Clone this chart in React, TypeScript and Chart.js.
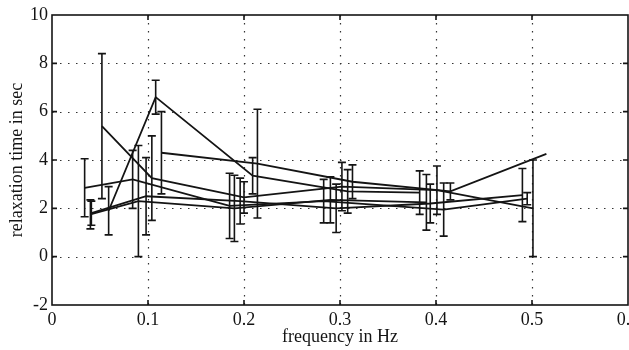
import { useEffect, useRef } from 'react';
import { Chart, registerables } from 'chart.js';

Chart.register(...registerables);

// Axis ticks
const xTicks = [0, 0.1, 0.2, 0.3, 0.4, 0.5, 0.6];
const yTicks = [-2, 0, 2, 4, 6, 8, 10];

// Series (frequency in Hz, relaxation time in sec, error half-length)
const aFreq = [0.052, 0.104, 0.2, 0.302, 0.401, 0.501];
const aTime = [5.4, 3.25, 2.45, 2.9, 2.75, 2.0];
const aErr = [3.0, 1.75, 0.65, 1.0, 1.0, 2.0];

const bFreq = [0.059, 0.108, 0.209, 0.308, 0.383];
const bTime = [1.9, 6.6, 3.35, 2.7, 2.65];
const bErr = [1.0, 0.7, 0.75, 0.9, 0.9];

const cFreq = [0.114, 0.214, 0.313, 0.415, 0.515];
const cTime = [4.3, 3.85, 3.1, 2.7, 4.25];
const cErr = [1.7, 2.25, 0.7, 0.35, 0];

const dFreq = [0.034, 0.084, 0.185, 0.283, 0.408, 0.495];
const dTime = [2.85, 3.2, 2.1, 2.3, 1.95, 2.4];
const dErr = [1.2, 1.2, 1.35, 0.9, 1.1, 0.25];

const eFreq = [0.04, 0.09, 0.19, 0.29, 0.39];
const eTime = [1.75, 2.3, 2.0, 2.35, 2.25];
const eErr = [0.6, 2.3, 1.37, 0.95, 1.15];

const fFreq = [0.041, 0.098, 0.196, 0.296, 0.394, 0.49];
const fTime = [1.8, 2.5, 2.3, 2.0, 2.2, 2.55];
const fErr = [0.5, 1.6, 0.95, 1.0, 0.8, 1.1];

const seriesList = [
  { f: aFreq, t: aTime, e: aErr },
  { f: bFreq, t: bTime, e: bErr },
  { f: cFreq, t: cTime, e: cErr },
  { f: dFreq, t: dTime, e: dErr },
  { f: eFreq, t: eTime, e: eErr },
  { f: fFreq, t: fTime, e: fErr },
];

const INK = '#141414';
const FONT = { family: '"Liberation Serif", "Times New Roman", serif', size: 18 };

const framePlugin = {
  id: 'frame',
  beforeDatasetsDraw(chart: any) {
    const { ctx, chartArea, scales } = chart;
    const { left, right, top, bottom } = chartArea;
    ctx.save();
    ctx.strokeStyle = '#333';
    ctx.lineWidth = 1.2;
    ctx.setLineDash([1.5, 6.5]);
    xTicks.slice(1, -1).forEach((v) => {
      const px = Math.round(scales.x.getPixelForValue(v)) + 0.5;
      ctx.beginPath();
      ctx.moveTo(px, top);
      ctx.lineTo(px, bottom);
      ctx.stroke();
    });
    yTicks.slice(1, -1).forEach((v) => {
      const py = Math.round(scales.y.getPixelForValue(v)) + 0.5;
      ctx.beginPath();
      ctx.moveTo(left, py);
      ctx.lineTo(right, py);
      ctx.stroke();
    });
    ctx.restore();
  },
  afterDatasetsDraw(chart: any) {
    const { ctx, chartArea, scales } = chart;
    const { left, right, top, bottom } = chartArea;
    ctx.save();
    ctx.strokeStyle = INK;
    ctx.lineWidth = 1.6;
    ctx.setLineDash([]);
    chart.data.datasets.forEach((ds: any) => {
      const errs: number[] = ds.errors || [];
      ds.data.forEach((p: any, i: number) => {
        const e = errs[i];
        if (!e) return;
        const px = scales.x.getPixelForValue(p.x);
        const y1 = scales.y.getPixelForValue(p.y + e);
        const y2 = scales.y.getPixelForValue(p.y - e);
        ctx.beginPath();
        ctx.moveTo(px, y1);
        ctx.lineTo(px, y2);
        ctx.moveTo(px - 4, y1);
        ctx.lineTo(px + 4, y1);
        ctx.moveTo(px - 4, y2);
        ctx.lineTo(px + 4, y2);
        ctx.stroke();
      });
    });
    // frame box
    ctx.lineWidth = 1.6;
    ctx.strokeRect(left, top, right - left, bottom - top);
    ctx.beginPath();
    xTicks.slice(1, -1).forEach((v) => {
      const px = scales.x.getPixelForValue(v);
      ctx.moveTo(px, top);
      ctx.lineTo(px, top + 5);
      ctx.moveTo(px, bottom);
      ctx.lineTo(px, bottom - 5);
    });
    yTicks.slice(1, -1).forEach((v) => {
      const py = scales.y.getPixelForValue(v);
      ctx.moveTo(left, py);
      ctx.lineTo(left + 5, py);
      ctx.moveTo(right, py);
      ctx.lineTo(right - 5, py);
    });
    ctx.stroke();
    ctx.restore();
  },
};

export default function App() {
  const ref = useRef<HTMLCanvasElement | null>(null);

  useEffect(() => {
    if (!ref.current) return;
    const datasets = seriesList.map((s) => ({
      data: s.f.map((f, i) => ({ x: f, y: s.t[i] })),
      errors: s.e,
      borderColor: INK,
      borderWidth: 1.8,
      pointRadius: 0,
      pointHoverRadius: 0,
      tension: 0,
      fill: false,
    }));
    const chart = new Chart(ref.current, {
      type: 'line',
      data: { datasets } as any,
      options: {
        animation: false,
        responsive: false,
        devicePixelRatio: 1,
        layout: { padding: { left: 0, right: 32, top: 15, bottom: 0 } },
        plugins: { legend: { display: false }, tooltip: { enabled: false } },
        scales: {
          x: {
            type: 'linear',
            min: 0,
            max: 0.6,
            afterBuildTicks: (s: any) => {
              s.ticks = xTicks.map((v) => ({ value: v }));
            },
            afterFit: (s: any) => {
              s.height = 45;
            },
            ticks: {
              autoSkip: false,
              maxRotation: 0,
              padding: 4,
              color: INK,
              font: FONT,
              callback: (v: any) => String(Math.round(Number(v) * 10) / 10),
            },
            grid: { display: false, drawTicks: false },
            border: { display: false },
            title: {
              display: true,
              text: 'frequency in Hz',
              color: INK,
              font: FONT,
              padding: { top: 0, bottom: 2 },
            },
          },
          y: {
            type: 'linear',
            min: -2,
            max: 10,
            afterBuildTicks: (s: any) => {
              s.ticks = yTicks.map((v) => ({ value: v }));
            },
            afterFit: (s: any) => {
              s.width = 52;
            },
            ticks: {
              autoSkip: false,
              padding: 4,
              color: INK,
              font: FONT,
              callback: (v: any) => String(v),
            },
            grid: { display: false, drawTicks: false },
            border: { display: false },
            title: {
              display: true,
              text: 'relaxation time in sec',
              color: INK,
              font: FONT,
              padding: { top: 6, bottom: 0 },
            },
          },
        },
      } as any,
      plugins: [framePlugin],
    });
    return () => chart.destroy();
  }, []);

  return (
    <div
      style={{
        position: 'fixed',
        left: 0,
        top: 0,
        width: 629,
        height: 350,
        overflow: 'hidden',
        background: '#fff',
      }}
    >
      <canvas ref={ref} width={660} height={350} style={{ display: 'block' }} />
    </div>
  );
}
